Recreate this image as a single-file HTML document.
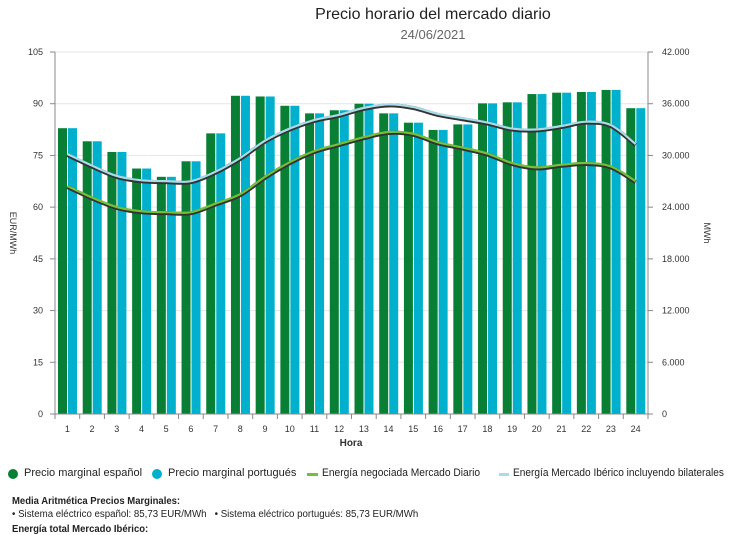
<!DOCTYPE html>
<html><head><meta charset="utf-8"><style>
body{margin:0;width:739px;height:534px;background:#fff;font-family:"Liberation Sans",sans-serif;overflow:hidden;position:relative}
.t{position:absolute;white-space:nowrap;color:#222}
.c{transform-origin:0 0}
</style></head><body>
<div class="t" style="left:0;width:866px;top:6px;text-align:center;font-size:16px;color:#222">Precio horario del mercado diario</div>
<div class="t" style="left:0;width:866px;top:27px;text-align:center;font-size:13px;color:#666">24/06/2021</div>
<svg id="chart" width="739" height="460" style="position:absolute;left:0;top:0" font-family="Liberation Sans, sans-serif"></svg>
<div>
<span class="t" style="left:8px;top:469px;width:10px;height:10px;border-radius:50%;background:#087f35"></span>
<div class="t c" style="left:24px;top:467px;font-size:11px">Precio marginal español</div>
<span class="t" style="left:152px;top:469px;width:10px;height:10px;border-radius:50%;background:#00b0cc"></span>
<div class="t c" style="left:168px;top:467px;font-size:11px">Precio marginal portugués</div>
<span class="t" style="left:307px;top:473px;width:11px;height:3px;background:#76bf3a"></span>
<div class="t c" style="left:322px;top:467px;font-size:11px;transform:scaleX(0.93)">Energía negociada Mercado Diario</div>
<span class="t" style="left:499px;top:473px;width:10px;height:3px;background:#a9dbe8"></span>
<div class="t c" style="left:513px;top:467px;font-size:11px;transform:scaleX(0.92)">Energía Mercado Ibérico incluyendo bilaterales</div>
</div>
<div class="t c" style="left:12px;top:496px;font-size:10px;font-weight:bold;transform:scaleX(0.95)">Media Aritmética Precios Marginales:</div>
<div class="t c" style="left:12px;top:509px;font-size:9.7px">• Sistema eléctrico español: 85,73 EUR/MWh &nbsp;&nbsp;• Sistema eléctrico portugués: 85,73 EUR/MWh</div>
<div class="t c" style="left:12px;top:524px;font-size:10px;font-weight:bold;transform:scaleX(0.95)">Energía total Mercado Ibérico:</div>
<script>
const hours=[1,2,3,4,5,6,7,8,9,10,11,12,13,14,15,16,17,18,19,20,21,22,23,24];
const priceES=[82.9,79.1,76,71.2,68.8,73.3,81.4,92.3,92.1,89.4,87.2,88.1,90,87.2,84.5,82.4,84,90.1,90.4,92.8,93.2,93.4,94,88.7];
const pricePT=[82.9,79.1,76,71.2,68.8,73.3,81.4,92.3,92.1,89.4,87.2,88.1,90,87.2,84.5,82.4,84,90.1,90.4,92.8,93.2,93.4,94,88.7];
const energyDaily=[26340,25000,23900,23400,23300,23300,24300,25400,27400,29100,30400,31200,32000,32600,32400,31400,30800,30100,29000,28500,28800,29000,28600,26900];
const energyIberian=[30050,28700,27500,27000,26900,26900,28000,29600,31600,33000,34000,34600,35400,35800,35500,34700,34200,33700,33000,32900,33300,33800,33400,31200];
const leftTicks=[0,15,30,45,60,75,90,105];
const rightTicks=["0","6.000","12.000","18.000","24.000","30.000","36.000","42.000"];
const rightVals=[0,6000,12000,18000,24000,30000,36000,42000];
const svg=document.getElementById('chart');const NS='http://www.w3.org/2000/svg';
const L=55,R=648,T=52,B=414,bw=(R-L)/hours.length;
const yL=v=>B-v/105*(B-T), yR=v=>B-v/42000*(B-T), xB=i=>L+i*bw;
function mk(tag,a,p){const e=document.createElementNS(NS,tag);for(const k in a)e.setAttribute(k,a[k]);(p||svg).appendChild(e);return e;}
leftTicks.forEach((v,i)=>{const g=mk('line',{x1:L,x2:R,y1:yL(v),y2:yL(v),stroke:'#e6e6e6'});
const t=mk('text',{x:L-12,y:yL(v)+3,'text-anchor':'end','font-size':9,fill:'#333'});t.textContent=v;
mk('line',{x1:L-5,x2:L,y1:yL(v),y2:yL(v),stroke:'#888'});
const t2=mk('text',{x:R+14,y:yR(rightVals[i])+3,'font-size':9,fill:'#333'});t2.textContent=rightTicks[i];
mk('line',{x1:R,x2:R+5,y1:yR(rightVals[i]),y2:yR(rightVals[i]),stroke:'#888'});});
hours.forEach((h,i)=>{const g=mk('rect',{x:xB(i)+3,y:yL(priceES[i]),width:9,height:B-yL(priceES[i]),fill:'#087f35'});
const c=mk('rect',{x:xB(i)+13,y:yL(pricePT[i]),width:9,height:B-yL(pricePT[i]),fill:'#00b0cc'});
const t=mk('text',{x:xB(i)+bw/2,y:B+18,'text-anchor':'middle','font-size':9,fill:'#333'});t.textContent=h;
mk('line',{x1:xB(i),x2:xB(i),y1:B,y2:B+5,stroke:'#888'});});
mk('line',{x1:R,x2:R,y1:B,y2:B+5,stroke:'#888'});
mk('line',{x1:L,x2:L,y1:T,y2:B,stroke:'#888'});mk('line',{x1:R,x2:R,y1:T,y2:B,stroke:'#888'});mk('line',{x1:L,x2:R,y1:B,y2:B,stroke:'#888'});
function path(vals){const p=vals.map((v,i)=>[xB(i)+bw/2,yR(v)]);let d='M'+p[0];for(let i=0;i<p.length-1;i++){const p0=p[i-1]||p[i],p1=p[i],p2=p[i+1],p3=p[i+2]||p2;
d+=' C'+(p1[0]+(p2[0]-p0[0])/6)+','+(p1[1]+(p2[1]-p0[1])/6)+' '+(p2[0]-(p3[0]-p1[0])/6)+','+(p2[1]-(p3[1]-p1[1])/6)+' '+p2;}return d;}
[[energyIberian,'#a9dbe8','line-energy-iberian'],[energyDaily,'#76bf3a','line-energy-daily']].forEach(([v,c,n])=>{
mk('path',{d:path(v),fill:'none',stroke:'#333',"stroke-width":4});const l=mk('path',{d:path(v),fill:'none',stroke:c,"stroke-width":2.2,transform:'translate(0,-1)'});});
let t=mk('text',{x:10,y:233,'font-size':9,fill:'#333',transform:'rotate(90 10 233)','text-anchor':'middle'});t.textContent='EUR/MWh';
t=mk('text',{x:704,y:233,'font-size':9,fill:'#333',transform:'rotate(90 704 233)','text-anchor':'middle'});t.textContent='MWh';
t=mk('text',{x:351,y:446,'font-size':10,fill:'#333','text-anchor':'middle','font-weight':'bold'});t.textContent='Hora';
</script>
</body></html>
